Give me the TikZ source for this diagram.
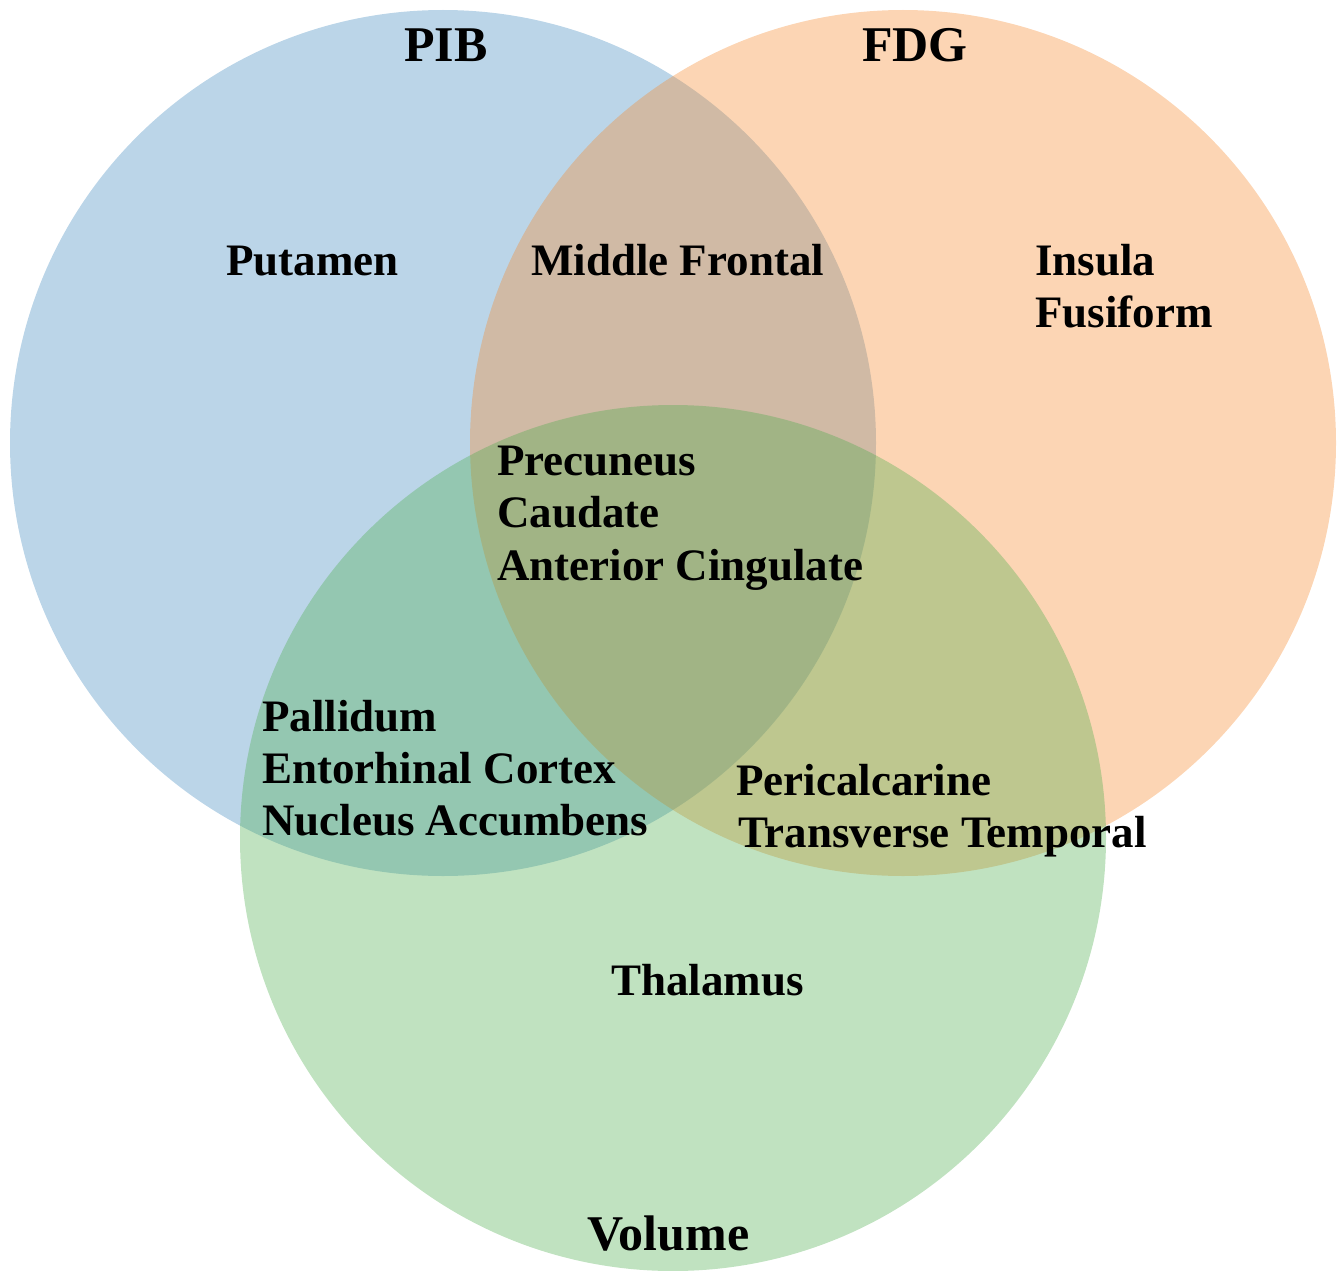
\documentclass[tikz,border=0pt]{standalone}
\usepackage{fontspec}
\setmainfont{Liberation Serif}
\usepackage{xcolor}

\definecolor{pibblue}{RGB}{61,135,189}
\definecolor{fdgorange}{RGB}{246,135,41}
\definecolor{volgreen}{RGB}{75,172,75}

\tikzset{
  region/.style={anchor=base west, inner sep=0pt, font=\bfseries\fontsize{45}{52.5}\selectfont},
  settitle/.style={anchor=base west, inner sep=0pt, font=\bfseries\fontsize{50}{55}\selectfont}
}

\begin{document}
\begin{tikzpicture}[x=1pt,y=-1pt]
\useasboundingbox (0,0) rectangle (1344,1271);
\fill[pibblue, fill opacity=0.35] (443,443) circle (433pt);
\fill[fdgorange, fill opacity=0.35] (903,443) circle (433pt);
\fill[volgreen, fill opacity=0.35] (673,838) circle (433pt);

\node[settitle] (pib) at (404,62) {PIB};
\node[settitle] (fdg) at (862,62) {FDG};
\node[settitle] (vol) at (587,1250) {Volume};

% PIB only
\node[region] (putamen) at (226,275) {Putamen};
% PIB and FDG
\node[region] (midfront) at (531,275) {Middle Frontal};
% FDG only
\node[region] (insula) at (1035,275) {Insula};
\node[region] (fusiform) at (1035,327) {Fusiform};
% all three
\node[region] (precun) at (497,475) {Precuneus};
\node[region] (caudate) at (497,527) {Caudate};
\node[region] (antcing) at (497,580) {Anterior Cingulate};
% PIB and Volume
\node[region] (pallid) at (262,731) {Pallidum};
\node[region] (entorh) at (262,783) {Entorhinal Cortex};
\node[region] (nucacc) at (262,835) {Nucleus Accumbens};
% FDG and Volume
\node[region] (pericalc) at (736,795) {Pericalcarine};
\node[region] (transtemp) at (738,847) {Transverse Temporal};
% Volume only
\node[region] (thalamus) at (611,995) {Thalamus};
\end{tikzpicture}
\end{document}
